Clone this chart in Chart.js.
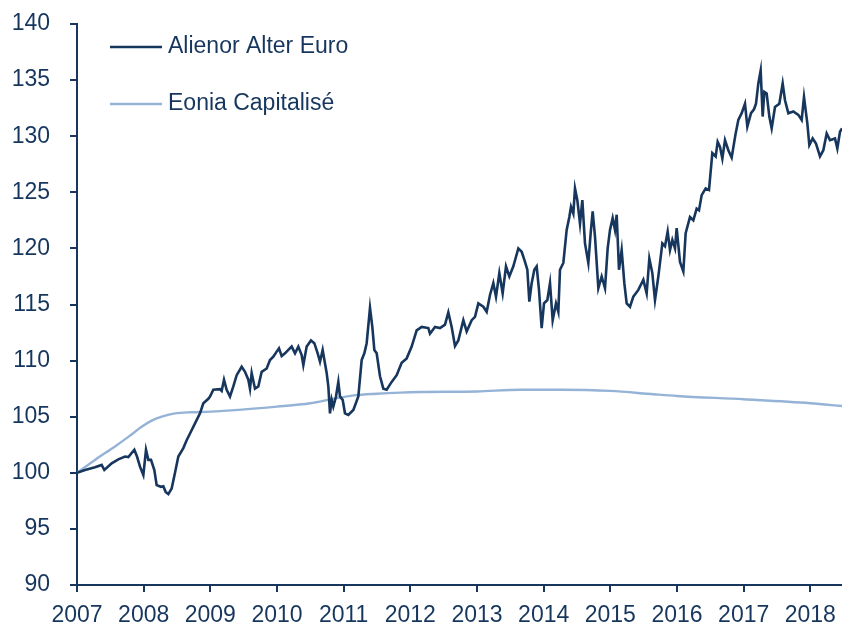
<!DOCTYPE html>
<html lang="fr">
<head>
    <meta charset="UTF-8">
    <title>Alienor Alter Euro vs Eonia Capitalisé</title>
    <script src="https://cdn.jsdelivr.net/npm/chart.js"></script>
    <style>
        body { margin: 0; background: #fff; }
        #wrap { width: 842px; height: 624px; position: relative; }
    </style>
</head>
<body>
    <div id="wrap"><canvas id="perfChart"></canvas></div>

    <script>
        // Séries (dates en années décimales)
        const seriesNames = ['Alienor Alter Euro', 'Eonia Capitalisé'];

        const alienorDates = [
            2007.0, 2007.12, 2007.27, 2007.37, 2007.41, 2007.52, 2007.62, 2007.72, 2007.77, 2007.86,
            2007.9, 2007.945, 2007.995, 2008.035, 2008.07, 2008.11, 2008.16, 2008.195, 2008.26, 2008.295,
            2008.33, 2008.37, 2008.42, 2008.47, 2008.52, 2008.595, 2008.645, 2008.695, 2008.77, 2008.845,
            2008.895, 2008.97, 2008.995, 2009.045, 2009.145, 2009.17, 2009.205, 2009.245, 2009.295, 2009.345,
            2009.395, 2009.47, 2009.52, 2009.57, 2009.595, 2009.62, 2009.67, 2009.72, 2009.77, 2009.845,
            2009.895, 2009.945, 2009.995, 2010.03, 2010.07, 2010.12, 2010.17, 2010.22, 2010.27, 2010.32,
            2010.37, 2010.395, 2010.445, 2010.51, 2010.56, 2010.61, 2010.645, 2010.685, 2010.72, 2010.745,
            2010.77, 2010.795, 2010.82, 2010.845, 2010.885, 2010.92, 2010.945, 2010.985, 2011.02, 2011.07,
            2011.145, 2011.22, 2011.27, 2011.31, 2011.345, 2011.395, 2011.43, 2011.46, 2011.495, 2011.545,
            2011.595, 2011.645, 2011.72, 2011.795, 2011.87, 2011.945, 2012.02, 2012.095, 2012.17, 2012.27,
            2012.295, 2012.37, 2012.445, 2012.52, 2012.57, 2012.62, 2012.67, 2012.72, 2012.795, 2012.845,
            2012.92, 2012.97, 2013.02, 2013.095, 2013.145, 2013.195, 2013.245, 2013.285, 2013.335, 2013.385,
            2013.435, 2013.485, 2013.545, 2013.62, 2013.67, 2013.72, 2013.755, 2013.785, 2013.82, 2013.86,
            2013.895, 2013.93, 2013.97, 2014.005, 2014.055, 2014.095, 2014.135, 2014.185, 2014.22, 2014.245,
            2014.295, 2014.345, 2014.385, 2014.41, 2014.445, 2014.47, 2014.505, 2014.545, 2014.58, 2014.62,
            2014.67, 2014.705, 2014.735, 2014.77, 2014.82, 2014.87, 2014.92, 2014.96, 2014.995, 2015.035,
            2015.07, 2015.095, 2015.13, 2015.17, 2015.21, 2015.245, 2015.295, 2015.345, 2015.42, 2015.495,
            2015.545, 2015.585, 2015.63, 2015.67, 2015.72, 2015.78, 2015.82, 2015.86, 2015.895, 2015.93,
            2015.97, 2015.995, 2016.045, 2016.095, 2016.13, 2016.195, 2016.245, 2016.295, 2016.33, 2016.37,
            2016.43, 2016.48, 2016.53, 2016.58, 2016.61, 2016.645, 2016.68, 2016.72, 2016.77, 2016.82,
            2016.88, 2016.92, 2016.97, 2017.02, 2017.055, 2017.11, 2017.155, 2017.185, 2017.22, 2017.255,
            2017.285, 2017.31, 2017.345, 2017.385, 2017.42, 2017.47, 2017.535, 2017.585, 2017.62, 2017.67,
            2017.745, 2017.82, 2017.87, 2017.905, 2017.955, 2017.985, 2018.035, 2018.085, 2018.145, 2018.195,
            2018.245, 2018.295, 2018.37, 2018.405, 2018.445, 2018.475
        ];
        const alienorValues = [
            100.0, 100.25, 100.5, 100.7, 100.25, 100.85, 101.2, 101.45, 101.4, 102.05,
            101.45, 100.55, 99.8, 102.05, 101.15, 101.15, 100.25, 98.9, 98.75, 98.8,
            98.3, 98.1, 98.6, 100.0, 101.45, 102.2, 102.9, 103.5, 104.4, 105.3,
            106.2, 106.6, 106.8, 107.4, 107.45, 107.3, 108.3, 107.4, 106.8, 107.7,
            108.7, 109.45, 109.0, 108.3, 107.5, 108.9, 107.5, 107.7, 109.0, 109.3,
            110.05, 110.35, 110.8, 111.1, 110.4, 110.65, 110.95, 111.25, 110.65, 111.25,
            110.5, 109.6, 111.25, 111.8, 111.55, 110.65, 109.9, 110.95, 109.75, 108.9,
            107.7, 105.3, 106.5, 105.9, 106.8, 108.1, 106.8, 106.5, 105.3, 105.15,
            105.6, 106.8, 110.05, 110.65, 111.55, 114.7, 113.0, 110.95, 110.65, 108.6,
            107.5, 107.4, 108.1, 108.7, 109.8, 110.2, 111.25, 112.7, 113.0, 112.9,
            112.4, 113.0, 112.9, 113.2, 114.3, 113.0, 111.3, 111.8, 113.6, 112.6,
            113.6, 113.9, 115.1, 114.8, 114.35, 115.85, 116.9, 115.7, 117.8, 116.0,
            118.4, 117.5, 118.4, 120.0, 119.7, 118.8, 118.1, 115.25, 116.9, 118.1,
            118.4, 116.3, 112.9, 115.1, 115.4, 116.9, 113.6, 115.1, 114.35, 118.1,
            118.7, 121.65, 122.8, 123.7, 123.1, 125.35, 124.3, 122.2, 124.3, 120.45,
            118.7, 121.35, 123.3, 121.05, 116.45, 117.5, 116.45, 120.0, 121.65, 122.7,
            121.65, 123.0, 118.1, 119.85, 116.9, 115.1, 114.8, 115.7, 116.3, 117.2,
            116.0, 119.1, 117.8, 115.4, 117.5, 120.45, 120.2, 121.5, 119.85, 120.75,
            120.0, 121.8, 118.8, 117.95, 121.35, 122.8, 122.5, 123.55, 123.4, 124.75,
            125.35, 125.2, 128.5, 128.2, 129.5, 129.05, 128.0, 129.65, 128.75, 128.1,
            130.25, 131.45, 132.05, 132.9, 130.85, 132.05, 132.4, 132.9, 134.7, 135.85,
            131.75, 133.95, 133.8, 131.75, 130.7, 132.6, 132.9, 134.7, 133.2, 132.05,
            132.2, 131.9, 131.45, 133.5, 131.15, 129.2, 129.8, 129.35, 128.2, 128.75,
            130.25, 129.65, 129.8, 128.9, 130.4, 130.7
        ];

        const eoniaDates = [
            2007.0, 2007.27, 2007.57, 2007.77, 2007.97, 2008.12, 2008.27, 2008.47, 2008.72, 2009.0,
            2010.0, 2010.5, 2010.85, 2011.15, 2011.5, 2011.85, 2012.15, 2013.0, 2013.65, 2014.25,
            2015.0, 2015.65, 2016.0, 2017.0, 2018.0, 2018.475
        ];
        const eoniaValues = [
            100.0, 101.15, 102.35, 103.2, 104.1, 104.65, 105.0, 105.3, 105.4, 105.45,
            105.9, 106.2, 106.6, 106.9, 107.05, 107.15, 107.2, 107.25, 107.4, 107.4,
            107.3, 107.0, 106.85, 106.55, 106.2, 105.95
        ];

        const xMin = 2007, xMax = 2018.475;
        const yMin = 90, yMax = 140, yStep = 5;

        const navy = '#17365D';
        const light = '#95B3D7';
        const fontFamily = '"Liberation Sans", Arial, sans-serif';

        const toPoints = (xs, ys) => xs.map((x, i) => ({ x: x, y: ys[i] }));

        // Légende dessinée dans la zone du graphique
        const legendInside = {
            id: 'legendInside',
            afterDraw(chart) {
                const ctx = chart.ctx;
                const area = chart.chartArea;
                ctx.save();
                ctx.font = '23px ' + fontFamily;
                ctx.textBaseline = 'middle';
                ctx.textAlign = 'left';
                chart.data.datasets.forEach((ds, i) => {
                    const y = area.top + 23 + i * 57;
                    const x0 = area.left + 33;
                    ctx.strokeStyle = ds.borderColor;
                    ctx.lineWidth = 2.5;
                    ctx.beginPath();
                    ctx.moveTo(x0, y);
                    ctx.lineTo(x0 + 52, y);
                    ctx.stroke();
                    ctx.fillStyle = navy;
                    ctx.fillText(ds.label, x0 + 58, y);
                });
                ctx.restore();
            }
        };

        const ctx = document.getElementById('perfChart').getContext('2d');
        new Chart(ctx, {
            type: 'line',
            data: {
                datasets: [
                    {
                        label: seriesNames[0],
                        data: toPoints(alienorDates, alienorValues),
                        borderColor: navy,
                        borderWidth: 2.6,
                        pointRadius: 0,
                        tension: 0
                    },
                    {
                        label: seriesNames[1],
                        data: toPoints(eoniaDates, eoniaValues),
                        borderColor: light,
                        borderWidth: 2.4,
                        pointRadius: 0,
                        cubicInterpolationMode: 'monotone'
                    }
                ]
            },
            options: {
                responsive: true,
                maintainAspectRatio: false,
                animation: false,
                layout: { padding: { top: 24, right: 0, left: 0, bottom: 0 } },
                plugins: {
                    legend: { display: false },
                    tooltip: { enabled: false }
                },
                scales: {
                    x: {
                        type: 'linear',
                        min: xMin,
                        max: xMax,
                        afterFit: s => { s.height = 39; s.paddingLeft = 0; s.paddingRight = 0; },
                        grid: { drawOnChartArea: false, drawTicks: true, tickLength: 7, color: navy, lineWidth: 2 },
                        border: { display: true, color: navy, width: 2 },
                        ticks: {
                            stepSize: 1,
                            includeBounds: false,
                            autoSkip: false,
                            maxRotation: 0,
                            padding: 10,
                            color: navy,
                            font: { family: fontFamily, size: 23 },
                            callback: v => String(v)
                        }
                    },
                    y: {
                        min: yMin,
                        max: yMax,
                        afterFit: s => { s.width = 77; s.paddingTop = 0; s.paddingBottom = 0; },
                        grid: { drawOnChartArea: false, drawTicks: true, tickLength: 7, color: navy, lineWidth: 2 },
                        border: { display: true, color: navy, width: 2 },
                        ticks: {
                            stepSize: yStep,
                            padding: 20,
                            color: navy,
                            font: { family: fontFamily, size: 23 }
                        }
                    }
                }
            },
            plugins: [legendInside]
        });
    </script>
</body>
</html>
